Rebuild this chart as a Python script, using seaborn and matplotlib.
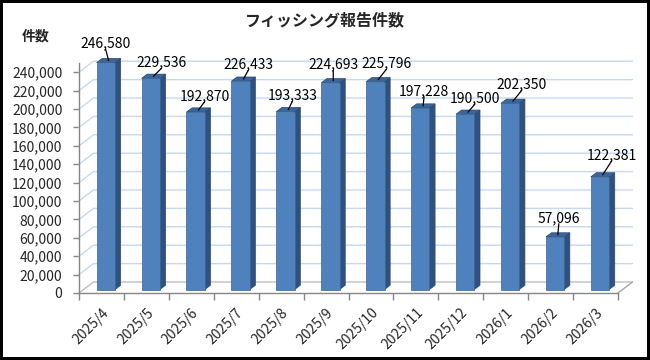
import matplotlib
matplotlib.use('Agg')
import matplotlib.pyplot as plt
import matplotlib.ticker as ticker
from matplotlib.patches import Polygon
from matplotlib.lines import Line2D
import seaborn as sns

# data
months = ['2025/4', '2025/5', '2025/6', '2025/7', '2025/8', '2025/9',
          '2025/10', '2025/11', '2025/12', '2026/1', '2026/2', '2026/3']
reports = [246580, 229536, 192870, 226433, 193333, 224693,
           225796, 197228, 190500, 202350, 57096, 122381]
title = 'フィッシング報告件数'
ylabel = '件数'

# label centre offsets from bar top (pixels, right / up)
label_off = [(-3, 17), (8, 14), (6, 14), (5, 15), (4, 14), (0, 16),
             (8, 16), (1, 15), (7, 14), (9, 17), (1, 17), (9, 20)]

FRONT = '#4f81bd'
SIDE = '#2f5180'
TOP = '#3b669c'
GRID = '#c6d9f1'
AXIS = '#868686'

sns.set_style('white')
plt.rcParams['font.family'] = ['Noto Sans CJK JP', 'DejaVu Sans']

W, H = 650, 360
fig = plt.figure(figsize=(W / 100, H / 100), dpi=100)
fig.patch.set_edgecolor('black')
fig.patch.set_linewidth(3)

# front plane of the 3D box (pixels)
x0, x1, y0, y1 = 79, 618, 293, 63
ax = fig.add_axes([x0 / W, (H - y0) / H, (x1 - x0) / W, (y0 - y1) / H])

ymax = 250000
ncat = len(months)
sx = (x1 - x0) / ncat          # px per category
sy = (y0 - y1) / ymax          # px per unit

# depth offsets converted to data units
back = (14.5 / sx, 11 / sy)
front = (4.4 / sx, 3.5 / sy)
depth = (5.6 / sx, 4.2 / sy)

sns.barplot(x=months, y=reports, ax=ax, color=FRONT, saturation=1,
            width=0.41, edgecolor='#3a6290', linewidth=0.5, zorder=5)
ax.set_xlim(-0.5, ncat - 0.5)
ax.set_ylim(0, ymax)

# back wall grid, left wall diagonals and floor
yt = list(range(0, 240001, 20000))
for v in yt:
    ax.add_line(Line2D([-0.5, -0.5 + back[0], ncat - 0.5 + back[0]],
                       [v, v + back[1], v + back[1]],
                       color=GRID if v else '#bfbfbf', lw=1, zorder=1, clip_on=False))
ax.add_line(Line2D([ncat - 0.5, ncat - 0.5 + back[0]], [0, back[1]],
                   color='#a6a6a6', lw=1, zorder=1, clip_on=False))

# 3D bars: shift fronts, add side and top faces
for i, p in enumerate(ax.patches):
    p.set_x(p.get_x() + front[0])
    p.set_y(front[1])
    bx0 = p.get_x()
    bx1 = bx0 + p.get_width()
    h = p.get_y() + p.get_height()
    b = p.get_y()
    side = Polygon([(bx1, b), (bx1 + depth[0], b + depth[1]),
                    (bx1 + depth[0], h + depth[1]), (bx1, h)],
                   closed=True, fc=SIDE, ec='#2a4a75', lw=0.5, zorder=4, clip_on=False)
    top = Polygon([(bx0, h), (bx1, h), (bx1 + depth[0], h + depth[1]),
                   (bx0 + depth[0], h + depth[1])],
                  closed=True, fc=TOP, ec='#2a4a75', lw=0.5, zorder=4, clip_on=False)
    ax.add_patch(side)
    ax.add_patch(top)
    p.set_clip_on(False)

    # data label with leader line
    cx = (bx0 + bx1) / 2 + depth[0] / 2
    cy = h + depth[1] / 2
    ax.annotate(f'{reports[i]:,}', xy=(cx, cy), xytext=label_off[i],
                textcoords='offset pixels', ha='center', va='center',
                fontsize=10, color='black', zorder=10, annotation_clip=False,
                arrowprops=dict(arrowstyle='-', color='black', lw=0.9,
                                patchA=None, relpos=(0.5, 0.08),
                                shrinkA=0, shrinkB=0))

# axes styling
for s in ['top', 'right']:
    ax.spines[s].set_visible(False)
for s in ['left', 'bottom']:
    ax.spines[s].set_color(AXIS)
    ax.spines[s].set_linewidth(1)
    ax.spines[s].set_zorder(2)

ax.set_yticks(yt)
ax.yaxis.set_major_formatter(ticker.FuncFormatter(lambda v, _: f'{int(v):,}'))
ax.tick_params(axis='y', length=4, width=1, color=AXIS, pad=8, labelsize=10, left=True)
ax.set_xticks(range(ncat))
ax.set_xticks([i - 0.5 for i in range(ncat + 1)], minor=True)
ax.tick_params(axis='x', which='major', length=0, pad=9, labelsize=10)
ax.tick_params(axis='x', which='minor', length=5, width=1, color=AXIS, bottom=True)
for lab in ax.get_xticklabels():
    lab.set_rotation(45)
    lab.set_ha('right')
    lab.set_va('top')
    lab.set_rotation_mode('anchor')
ax.set_xlabel('')
ax.set_ylabel('')

fig.text(0.5, 1 - 20 / H, title, ha='center', va='center', fontsize=11.5, fontweight='bold')
fig.text(36 / W, 1 - 37 / H, ylabel, ha='center', va='center', fontsize=10, fontweight='bold')

fig.savefig('out.png', dpi=100, edgecolor=fig.get_edgecolor())
